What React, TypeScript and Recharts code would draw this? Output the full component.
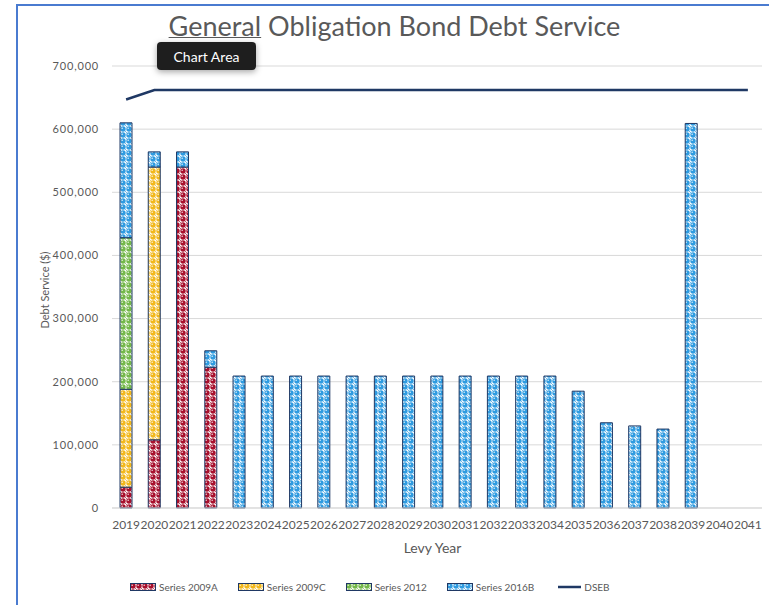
import { Bar, CartesianGrid, ComposedChart, Line, XAxis, YAxis } from 'recharts';

const years = [
  '2019', '2020', '2021', '2022', '2023', '2024', '2025', '2026', '2027', '2028', '2029', '2030',
  '2031', '2032', '2033', '2034', '2035', '2036', '2037', '2038', '2039', '2040', '2041',
];
const series2009A = [33000, 108000, 540000, 223000];
const series2009C = [155000, 432000];
const series2012 = [240000];
const series2016B = [
  182000, 24000, 24000, 26000, 209000, 209000, 209000, 209000, 209000, 209000, 209000, 209000,
  209000, 209000, 209000, 209000, 185000, 135000, 130000, 125000, 609000,
];
const dseb = [
  647000, 662000, 662000, 662000, 662000, 662000, 662000, 662000, 662000, 662000, 662000, 662000,
  662000, 662000, 662000, 662000, 662000, 662000, 662000, 662000, 662000, 662000, 662000,
];
const yTicks = [0, 100000, 200000, 300000, 400000, 500000, 600000, 700000];

const data = years.map((year, i) => ({
  year,
  s2009A: series2009A[i] ?? null,
  s2009C: series2009C[i] ?? null,
  s2012: series2012[i] ?? null,
  s2016B: series2016B[i] ?? null,
  dseb: dseb[i],
}));

const barSeries = [
  { key: 's2009A', name: 'Series 2009A', color: '#a8102d' },
  { key: 's2009C', name: 'Series 2009C', color: '#f2b81c' },
  { key: 's2012', name: 'Series 2012', color: '#74b84a' },
  { key: 's2016B', name: 'Series 2016B', color: '#2f9be0' },
];

const FONT = 'Lato, "Open Sans", sans-serif';
const GREY = '#595959';
const EDGE = '#1f3864';

function Patterns() {
  return (
    <defs>
      {barSeries.map((s) => (
        <pattern key={s.key} id={`pat-${s.key}`} width={6} height={6} patternUnits="userSpaceOnUse">
          <rect width={6} height={6} fill="#ffffff" />
          <circle cx={3} cy={3} r={2.7} fill={s.color} />
          <circle cx={2.2} cy={2.2} r={0.8} fill="#ffffff" opacity={0.8} />
          <circle cx={0} cy={0} r={0.9} fill={s.color} />
          <circle cx={6} cy={6} r={0.9} fill={s.color} />
        </pattern>
      ))}
    </defs>
  );
}

function ChartLegend() {
  return (
    <div
      style={{
        position: 'absolute', left: 130, top: 581, display: 'flex', alignItems: 'center',
        fontFamily: FONT, fontSize: 10, color: GREY,
      }}
    >
      {barSeries.map((s) => (
        <div key={s.key} style={{ display: 'flex', alignItems: 'center', marginRight: 20 }}>
          <svg width={26} height={8} style={{ marginRight: 3 }}>
            <rect x={0.5} y={0.5} width={25} height={7} fill={`url(#pat-${s.key})`} stroke={EDGE} strokeWidth={1} />
          </svg>
          <span>{s.name}</span>
        </div>
      ))}
      <div style={{ display: 'flex', alignItems: 'center', marginLeft: 4 }}>
        <svg width={24} height={8} style={{ marginRight: 2 }}>
          <line x1={0} y1={4} x2={23} y2={4} stroke={EDGE} strokeWidth={2.5} />
        </svg>
        <span>DSEB</span>
      </div>
    </div>
  );
}

export default function App() {
  return (
    <div style={{ position: 'absolute', left: 0, top: 0, width: 769, height: 605, background: '#fff', overflow: 'hidden' }}>
      <div style={{ position: 'absolute', left: 16, top: 4, width: 753, height: 601, borderLeft: '2px solid #4a7bd0', borderTop: '2px solid #4a7bd0' }} />
      <div
        style={{
          position: 'absolute', left: 10, width: 769, top: 9, textAlign: 'center',
          fontFamily: FONT, fontSize: 27, color: GREY,
        }}
      >
        <span style={{ textDecoration: 'underline', textDecorationThickness: 1 }}>General</span> Obligation Bond Debt Service
      </div>
      <div
        style={{
          position: 'absolute', left: 44, top: 290, transform: 'translate(-50%, -50%) rotate(-90deg)',
          whiteSpace: 'nowrap', fontFamily: FONT, fontSize: 11, color: GREY,
        }}
      >
        Debt Service ($)
      </div>
      <div
        style={{
          position: 'absolute', left: 48, width: 769, top: 539, textAlign: 'center',
          fontFamily: FONT, fontSize: 14, color: GREY,
        }}
      >
        Levy Year
      </div>
      <ComposedChart
        width={769}
        height={605}
        data={data}
        margin={{ top: 66, right: 7, bottom: 67, left: 20 }}
        barSize={12}
        style={{ position: 'absolute', left: 0, top: 0 }}
      >
        <Patterns />
        <CartesianGrid vertical={false} stroke="#d9d9d9" />
        <XAxis
          dataKey="year"
          interval={0}
          height={30}
          tickLine={false}
          axisLine={{ stroke: '#d9d9d9' }}
          tick={{ fontFamily: FONT, fontSize: 12, fill: GREY }}
          tickMargin={6}
        />
        <YAxis
          width={92}
          domain={[0, 700000]}
          ticks={yTicks}
          tickLine={false}
          axisLine={false}
          tickMargin={7}
          tickFormatter={(v: number) => v.toLocaleString('en-US')}
          tick={{ fontFamily: FONT, fontSize: 11, fill: GREY, letterSpacing: 0.8 }}
        />
        {barSeries.map((s) => (
          <Bar
            key={s.key}
            dataKey={s.key}
            name={s.name}
            stackId="a"
            fill={`url(#pat-${s.key})`}
            stroke={EDGE}
            strokeWidth={1}
            isAnimationActive={false}
          />
        ))}
        <Line
          dataKey="dseb"
          name="DSEB"
          stroke={EDGE}
          strokeWidth={2.5}
          dot={false}
          activeDot={false}
          type="linear"
          isAnimationActive={false}
        />
      </ComposedChart>
      <ChartLegend />
      <div
        style={{
          position: 'absolute', left: 157, top: 42, width: 99, height: 28, background: '#1e1e1e', borderRadius: 4,
          boxShadow: '0 2px 6px rgba(0,0,0,0.35)', color: '#fff', fontFamily: FONT, fontSize: 14,
          display: 'flex', alignItems: 'center', justifyContent: 'center',
        }}
      >
        Chart Area
      </div>
    </div>
  );
}
